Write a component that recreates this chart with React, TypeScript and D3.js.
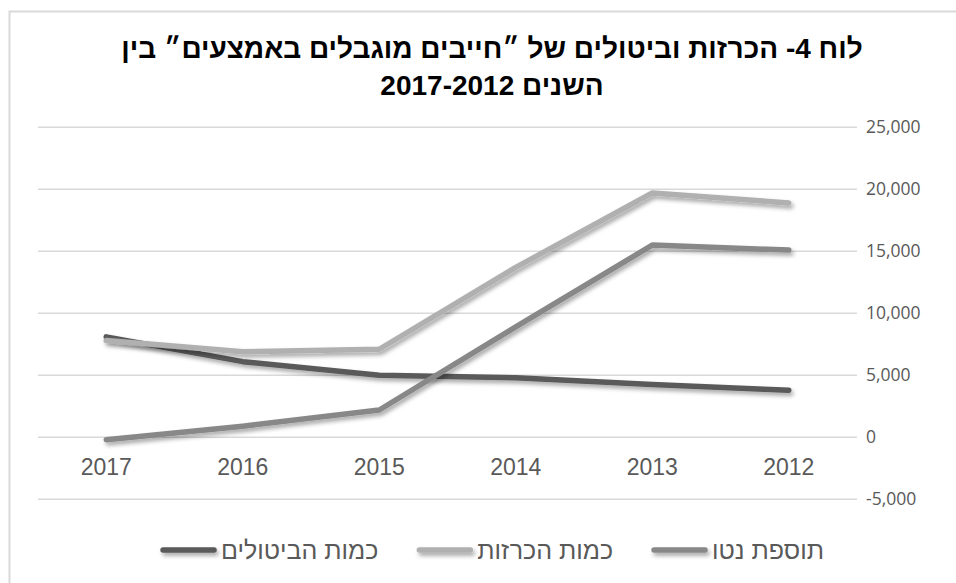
import { useEffect, useRef } from 'react';
import * as d3 from 'd3';

// Years, right to left in the original (2017 sits on the left)
const years = ['2017', '2016', '2015', '2014', '2013', '2012'];

const cancellations = [8100, 6100, 5000, 4800, 4250, 3800];
const declarations = [7800, 6900, 7100, 13700, 19700, 18900];
const netAddition = [-200, 900, 2200, 8900, 15500, 15100];

const yTicks = [-5000, 0, 5000, 10000, 15000, 20000, 25000];

const seriesNames = ['כמות הביטולים', 'כמות הכרזות', 'תוספת נטו'];
const seriesColors = ['#5a5a5a', '#b0b0b0', '#888888'];

const titleLines = [
  'לוח 4- הכרזות וביטולים של ״חייבים מוגבלים באמצעים״  בין',
  'השנים 2017-2012',
];

const W = 956;
const H = 583;

export default function App() {
  const svgRef = useRef<SVGSVGElement>(null);

  useEffect(() => {
    if (!svgRef.current) return;
    const svg = d3.select(svgRef.current);
    svg.selectAll('*').remove();

    const margin = { left: 38, right: 857, top: 127.3, bottom: 499.3 };

    const x = d3.scaleBand<string>().domain(years).range([margin.left, margin.right]).padding(0);
    const y = d3.scaleLinear().domain([-5000, 25000]).range([margin.bottom, margin.top]);
    const cx = (d: string) => (x(d) ?? 0) + x.bandwidth() / 2;

    // drop shadow like Excel's outer shadow (user space so flat legend lines keep it)
    const defs = svg.append('defs');
    const f = defs
      .append('filter')
      .attr('id', 'shadow')
      .attr('filterUnits', 'userSpaceOnUse')
      .attr('x', 0)
      .attr('y', 0)
      .attr('width', W)
      .attr('height', H);
    f.append('feDropShadow')
      .attr('dx', 2)
      .attr('dy', 3)
      .attr('stdDeviation', 2.2)
      .attr('flood-color', '#000')
      .attr('flood-opacity', 0.35);

    // outer frame (only left/top edges are visible)
    svg
      .append('rect')
      .attr('x', 9.5)
      .attr('y', 11.5)
      .attr('width', W + 20)
      .attr('height', H + 20)
      .attr('fill', 'white')
      .attr('stroke', '#d9d9d9')
      .attr('stroke-width', 2);

    // title
    const title = svg
      .append('text')
      .attr('direction', 'rtl')
      .attr('text-anchor', 'middle')
      .style('font-family', '"Liberation Sans", Arial, sans-serif')
      .style('font-weight', 'bold')
      .style('font-size', '28px')
      .attr('fill', '#000');
    titleLines.forEach((t, i) => {
      title
        .append('tspan')
        .attr('x', 492)
        .attr('y', 58 + i * 37)
        .text(t);
    });

    // gridlines
    svg
      .append('g')
      .selectAll('line')
      .data(yTicks)
      .enter()
      .append('line')
      .attr('x1', margin.left)
      .attr('x2', margin.right)
      .attr('y1', (d) => y(d))
      .attr('y2', (d) => y(d))
      .attr('stroke', '#d9d9d9')
      .attr('stroke-width', 1.5);

    // right-side value labels
    svg
      .append('g')
      .selectAll('text')
      .data(yTicks)
      .enter()
      .append('text')
      .attr('x', 866)
      .attr('y', (d) => y(d))
      .attr('dy', '0.35em')
      .style('font-family', '"Open Sans", sans-serif')
      .style('font-size', '17.5px')
      .attr('fill', '#595959')
      .text((d) => d3.format(',')(d).replace('−', '-'));

    // category labels
    svg
      .append('g')
      .selectAll('text')
      .data(years)
      .enter()
      .append('text')
      .attr('x', (d) => cx(d))
      .attr('y', 467)
      .attr('dy', '0.35em')
      .attr('text-anchor', 'middle')
      .style('font-family', '"Liberation Sans", Arial, sans-serif')
      .style('font-size', '23px')
      .attr('fill', '#595959')
      .text((d) => d);

    // lines
    const line = d3
      .line<number>()
      .x((_d, i) => cx(years[i]))
      .y((d) => y(d));

    const allSeries = [cancellations, declarations, netAddition];
    svg
      .append('g')
      .selectAll('path')
      .data(allSeries)
      .enter()
      .append('path')
      .attr('d', (d) => line(d))
      .attr('fill', 'none')
      .attr('stroke', (_d, i) => seriesColors[i])
      .attr('stroke-width', 5.5)
      .attr('stroke-linecap', 'round')
      .attr('stroke-linejoin', 'round')
      .attr('filter', 'url(#shadow)');

    // legend, laid out right to left and centred
    const legend = svg.append('g');
    const order = [2, 1, 0];
    const items = order.map((si) => {
      const g = legend.append('g');
      const t = g
        .append('text')
        .attr('direction', 'rtl')
        .attr('text-anchor', 'start')
        .attr('y', 550)
        .attr('dy', '0.35em')
        .style('font-family', '"Liberation Sans", Arial, sans-serif')
        .style('font-size', '25px')
        .attr('fill', '#595959')
        .text(seriesNames[si]);
      const tw = (t.node() as SVGTextElement).getComputedTextLength();
      const l = g
        .append('line')
        .attr('y1', 550)
        .attr('y2', 550)
        .attr('stroke', seriesColors[si])
        .attr('stroke-width', 5.5)
        .attr('stroke-linecap', 'round')
        .attr('filter', 'url(#shadow)');
      return { t, l, tw, w: 57 + 4 + tw };
    });
    const gap = 38;
    const total = d3.sum(items, (d) => d.w) + gap * (items.length - 1);
    let right = 492 + total / 2;
    items.forEach((it) => {
      it.t.attr('x', right);
      const lineRight = right - it.tw - 4;
      it.l.attr('x1', lineRight - 57 + 3).attr('x2', lineRight - 3);
      right -= it.w + gap;
    });
  }, []);

  return (
    <>
      <style>{'body{margin:0}'}</style>
      <svg ref={svgRef} width={W} height={H} style={{ display: 'block', background: '#fff' }} />
    </>
  );
}
